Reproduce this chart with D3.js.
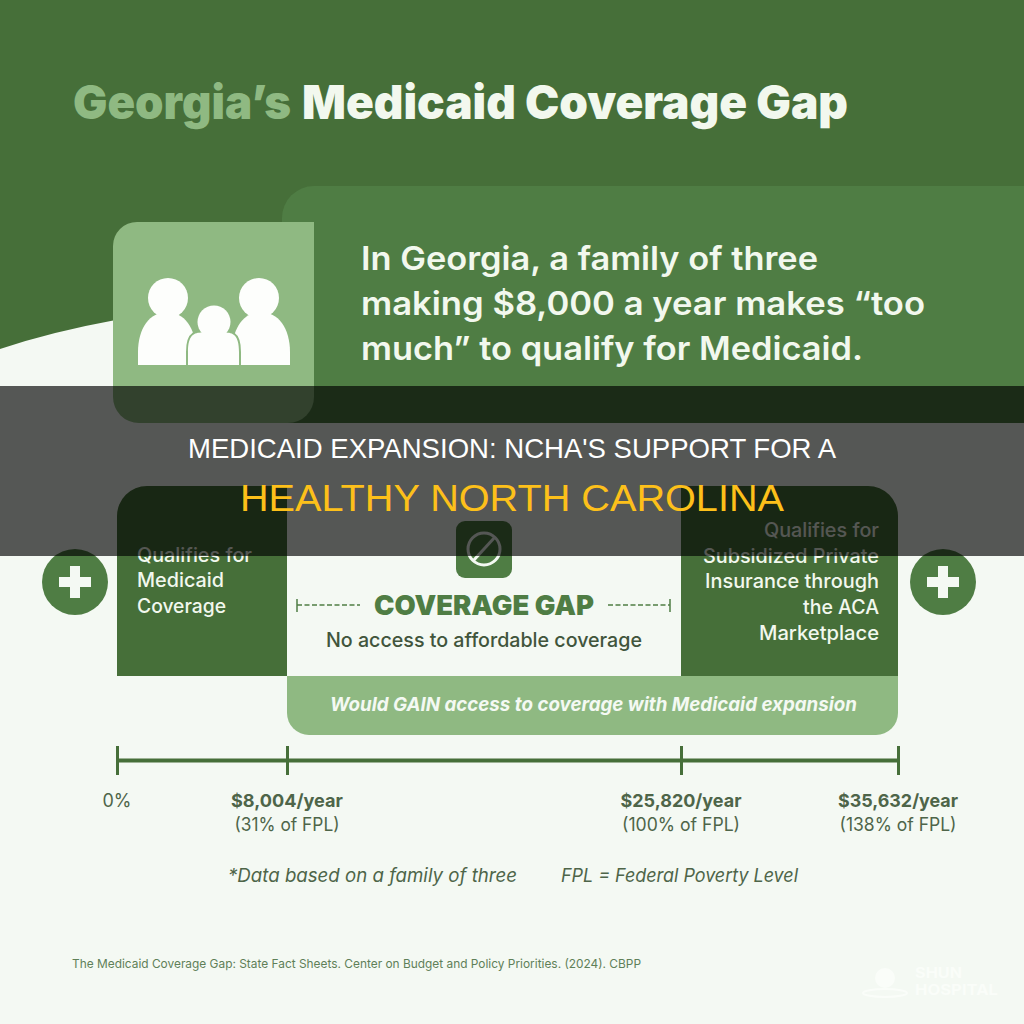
<!DOCTYPE html>
<html>
<head>
<meta charset="utf-8">
<script src="https://cdn.jsdelivr.net/npm/d3@7"></script>
<style>
  html, body { margin: 0; padding: 0; background: #f4f9f3; }
  svg { display: block; }
</style>
</head>
<body>
<div id="chart"></div>
<script>
// values
var fplPercents = [0, 31, 100, 138];
var incomeLabels = ["0%", "$8,004/year", "$25,820/year", "$35,632/year"];
var fplLabels = ["", "(31% of FPL)", "(100% of FPL)", "(138% of FPL)"];
var incomeWidths = [29, 112, 121, 120];
var fplWidths = [0, 105, 118, 117];

var leftBoxLines = ["Qualifies for", "Medicaid", "Coverage"];
var rightBoxLines = ["Qualifies for", "Subsidized Private", "Insurance through", "the ACA", "Marketplace"];
var introLines = ["In Georgia, a family of three", "making $8,000 a year makes \u201ctoo", "much\u201d to qualify for Medicaid."];
var overlayLines = ["MEDICAID EXPANSION: NCHA'S SUPPORT FOR A", "HEALTHY NORTH CAROLINA"];

var BG = "#f4f9f3", DARK = "#466f39", MID = "#4f7d44", LIGHT = "#8fb982", INK = "#f2f8ee";
var SANS = "Inter, 'Noto Sans', sans-serif";

var svg = d3.select("#chart").append("svg").attr("width", 1024).attr("height", 1024);

// the timeline scale sets every column of the diagram
var x = d3.scaleLinear().domain(fplPercents).range([117, 287, 681, 898]);

// rectangle with a separate radius per corner: tl, tr, br, bl
function box(x0, y0, x1, y1, r) {
  var p = d3.path();
  p.moveTo(x0 + r[0], y0);
  p.lineTo(x1 - r[1], y0);
  if (r[1]) p.arcTo(x1, y0, x1, y0 + r[1], r[1]);
  p.lineTo(x1, y1 - r[2]);
  if (r[2]) p.arcTo(x1, y1, x1 - r[2], y1, r[2]);
  p.lineTo(x0 + r[3], y1);
  if (r[3]) p.arcTo(x0, y1, x0, y1 - r[3], r[3]);
  p.lineTo(x0, y0 + r[0]);
  if (r[0]) p.arcTo(x0, y0, x0 + r[0], y0, r[0]);
  p.closePath();
  return p.toString();
}

function label(str, px, py, size, weight, fill, anchor, width, italic, family) {
  var t = svg.append("text")
    .attr("x", px).attr("y", py)
    .attr("font-family", family || SANS)
    .attr("font-size", size)
    .attr("font-weight", weight)
    .attr("fill", fill)
    .attr("text-anchor", anchor || "start")
    .text(str);
  if (italic) t.attr("font-style", "italic");
  if (width) t.attr("textLength", width).attr("lengthAdjust", "spacingAndGlyphs");
  return t;
}

// header
var header = d3.path();
header.moveTo(0, 0);
header.lineTo(1024, 0);
header.lineTo(1024, 300);
header.lineTo(282, 300);
header.quadraticCurveTo(110, 312, 0, 349);
header.closePath();
svg.append("path").attr("d", header.toString()).attr("fill", DARK);

label("Georgia\u2019s", 73, 119, 47, 900, LIGHT, "start", 218);
label("Medicaid Coverage Gap", 302, 119, 47, 900, INK, "start", 546);

svg.append("path").attr("d", box(282, 186, 1024, 423, [32, 0, 0, 0])).attr("fill", MID);
svg.append("path").attr("d", box(113, 222, 314, 423, [24, 0, 26, 26])).attr("fill", LIGHT);

// family icon: parents first, the child sits on top with a halo
var headX = [168, 259, 214], headY = [298, 298, 322], headR = [20, 20, 16.5];
var bodyX0 = [138, 232, 188], bodyX1 = [196, 290, 239], bodyTop = [312, 312, 333];
[0, 1, 2].forEach(function(i) {
  var mid = (bodyX0[i] + bodyX1[i]) / 2;
  var p = d3.path();
  p.moveTo(bodyX0[i], 365);
  p.lineTo(bodyX0[i], 352);
  p.bezierCurveTo(bodyX0[i], 328, bodyX0[i] + 12, bodyTop[i], mid, bodyTop[i]);
  p.bezierCurveTo(bodyX1[i] - 12, bodyTop[i], bodyX1[i], 328, bodyX1[i], 352);
  p.lineTo(bodyX1[i], 365);
  p.closePath();
  var halo = i == 2 ? 4 : 0;
  svg.append("path").attr("d", p.toString())
    .attr("fill", "#fdfefc").attr("stroke", LIGHT).attr("stroke-width", halo)
    .attr("paint-order", "stroke");
  svg.append("circle")
    .attr("cx", headX[i]).attr("cy", headY[i]).attr("r", headR[i])
    .attr("fill", "#fdfefc");
});
svg.append("rect").attr("x", 130).attr("y", 365).attr("width", 170).attr("height", 6).attr("fill", LIGHT);

var introY = [270, 315, 360], introW = [457, 564, 502];
introLines.forEach(function(s, i) {
  label(s, 361, introY[i], 32, 600, INK, "start", introW[i]);
});

// coverage bands
svg.append("path").attr("d", box(x(0), 486, x(31), 676, [30, 0, 0, 0])).attr("fill", DARK);
svg.append("path").attr("d", box(x(100), 486, x(138), 676, [0, 30, 0, 0])).attr("fill", DARK);
svg.append("path").attr("d", box(x(31), 676, x(138), 735, [0, 0, 22, 22])).attr("fill", LIGHT);

var leftY = [562, 587, 613], leftW = [115, 87, 89];
leftBoxLines.forEach(function(s, i) {
  label(s, 137, leftY[i], 20, 500, INK, "start", leftW[i]);
});
var rightY = [537, 563, 588, 614, 640], rightW = [115, 176, 174, 76, 120];
rightBoxLines.forEach(function(s, i) {
  label(s, 879, rightY[i], 20, 500, INK, "end", rightW[i]);
});

// plus buttons
[75, 943].forEach(function(cx) {
  svg.append("circle").attr("cx", cx).attr("cy", 582).attr("r", 33).attr("fill", MID);
  svg.append("rect").attr("x", cx - 16).attr("y", 577).attr("width", 32).attr("height", 10).attr("fill", BG);
  svg.append("rect").attr("x", cx - 5).attr("y", 566).attr("width", 10).attr("height", 32).attr("fill", BG);
});

// gap heading
svg.append("path").attr("d", box(456, 521, 512, 578, [9, 9, 9, 9])).attr("fill", MID);
svg.append("circle").attr("cx", 484).attr("cy", 549).attr("r", 16)
  .attr("fill", "none").attr("stroke", BG).attr("stroke-width", 3);
svg.append("line").attr("x1", 473).attr("y1", 561).attr("x2", 495).attr("y2", 537)
  .attr("stroke", BG).attr("stroke-width", 3);

label("COVERAGE GAP", 374, 615, 27, 900, MID, "start", 220);
label("No access to affordable coverage", 326, 647, 20, 500, "#41553c", "start", 316);
label("Would GAIN access to coverage with Medicaid expansion", 330, 711, 19, 700, BG, "start", 527, true);

[[297, 360, 297], [608, 670, 670]].forEach(function(d) {
  svg.append("line").attr("x1", d[0]).attr("x2", d[1]).attr("y1", 605).attr("y2", 605)
    .attr("stroke", MID).attr("stroke-width", 1.5).attr("stroke-dasharray", "5 2.5");
  svg.append("line").attr("x1", d[2]).attr("x2", d[2]).attr("y1", 599).attr("y2", 612)
    .attr("stroke", MID).attr("stroke-width", 1.5);
});

// timeline
var axis = d3.axisBottom(x).tickValues(fplPercents).tickFormat("").tickSize(15).tickSizeOuter(0);
var axisG = svg.append("g").attr("transform", "translate(0,760)").call(axis);
axisG.select(".domain").attr("stroke", DARK).attr("stroke-width", 4);
axisG.selectAll(".tick line").attr("y1", -14).attr("stroke", DARK).attr("stroke-width", 3);

fplPercents.forEach(function(v, i) {
  label(incomeLabels[i], x(v), 807, 18, i ? 700 : 400, "#4e6549", "middle", incomeWidths[i]);
  if (fplLabels[i]) label(fplLabels[i], x(v), 831, 18, 400, "#4e6549", "middle", fplWidths[i]);
});

label("*Data based on a family of three", 228, 882, 19, 400, "#4e6549", "start", 289, true);
label("FPL = Federal Poverty Level", 561, 882, 19, 400, "#4e6549", "start", 237, true);
label("The Medicaid Coverage Gap: State Fact Sheets. Center on Budget and Policy Priorities. (2024). CBPP", 72, 968, 12, 400, "#5f8058", "start", 569);

// faint watermark
label("SHUN", 915, 978, 14, 700, "#fafdf9", "start", 47);
label("HOSPITAL", 915, 995, 14, 700, "#fafdf9", "start", 83);
svg.append("circle").attr("cx", 885).attr("cy", 978).attr("r", 10).attr("fill", "#fafdf9");
svg.append("ellipse").attr("cx", 885).attr("cy", 993).attr("rx", 22).attr("ry", 4)
  .attr("fill", "none").attr("stroke", "#fafdf9").attr("stroke-width", 2);

// dark title strip over everything
svg.append("rect").attr("x", 0).attr("y", 386).attr("width", 1024).attr("height", 170)
  .attr("fill", "#000").attr("fill-opacity", 0.65);

label(overlayLines[0], 512, 458, 28, 400, "#ffffff", "middle", 648, false, "'Liberation Sans', Arial, sans-serif");
label(overlayLines[1], 512, 511, 37, 400, "#fdc01a", "middle", 544, false, "'Liberation Sans', Arial, sans-serif");
</script>
</body>
</html>
